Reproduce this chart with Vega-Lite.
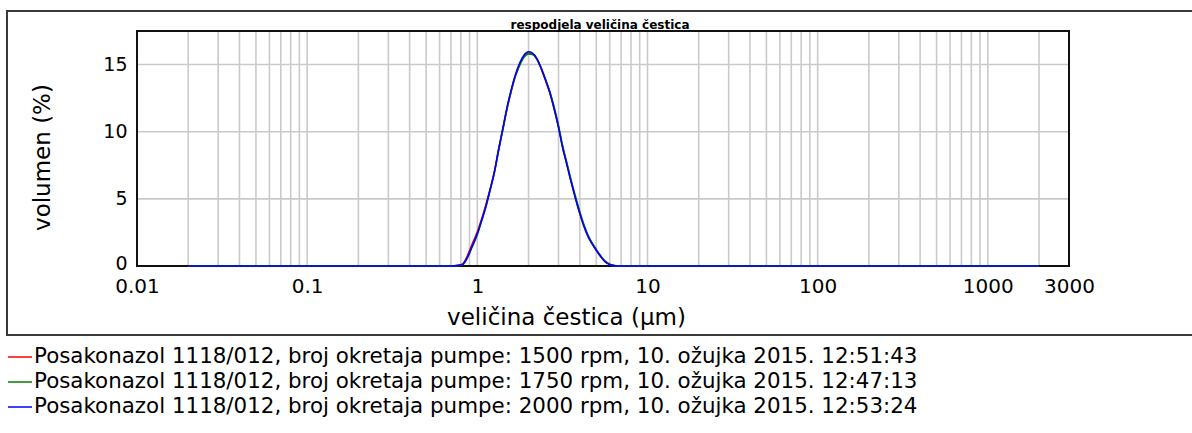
{
  "$schema": "https://vega.github.io/schema/vega-lite/v6.json",
  "padding": {"left": 7, "top": 11, "right": 0, "bottom": 0},
  "background": "white",
  "width": 1186,
  "height": 324,
  "title": {
    "text": "respodjela veličina čestica",
    "fontSize": 12,
    "fontWeight": "bold",
    "color": "#000000",
    "anchor": "middle",
    "frame": "group",
    "offset": -21
  },
  "config": {
    "font": "DejaVu Sans",
    "view": {"stroke": "#3a3a3a", "strokeWidth": 2},
    "axisX": {
      "orient": "bottom", "offset": -69,
      "domain": false, "ticks": false, "grid": false,
      "labelFontSize": 20, "labelPadding": 10, "labelColor": "#000000",
      "labelFlush": false, "labelOverlap": false, "labelDx": 3,
      "titleFontSize": 23, "titleFontWeight": "normal",
      "titleColor": "#000000", "titleX": 559, "titleY": 58,
      "titleBaseline": "alphabetic", "titleAlign": "center"
    },
    "axisY": {
      "orient": "left", "offset": -130,
      "domain": false, "ticks": false, "grid": false,
      "labelFontSize": 19, "labelPadding": 10, "labelColor": "#000000",
      "labelFlush": false, "labelOverlap": false,
      "titleFontSize": 23, "titleFontWeight": "normal",
      "titleColor": "#000000", "titleX": -88, "titleY": 146, "titleAngle": 270,
      "titleBaseline": "alphabetic", "titleAlign": "center"
    }
  },
  "datasets": {
    "serije": [
      {"rpm": 1500, "naziv": "Posakonazol 1118/012, broj okretaja pumpe: 1500 rpm, 10. ožujka 2015. 12:51:43"},
      {"rpm": 1750, "naziv": "Posakonazol 1118/012, broj okretaja pumpe: 1750 rpm, 10. ožujka 2015. 12:47:13"},
      {"rpm": 2000, "naziv": "Posakonazol 1118/012, broj okretaja pumpe: 2000 rpm, 10. ožujka 2015. 12:53:24"}
    ],
    "mjerenja": [
      {"rpm":1500,"d":0.02,"v":0},{"rpm":1500,"d":0.7,"v":0},{"rpm":1500,"d":0.76,"v":0.04},{"rpm":1500,"d":0.82,"v":0.16},{"rpm":1500,"d":0.87,"v":0.7},{"rpm":1500,"d":0.92,"v":1.45},{"rpm":1500,"d":1.0,"v":2.55},{"rpm":1500,"d":1.06,"v":3.5},{"rpm":1500,"d":1.12,"v":4.5},{"rpm":1500,"d":1.19,"v":5.75},{"rpm":1500,"d":1.26,"v":7.05},{"rpm":1500,"d":1.33,"v":8.6},{"rpm":1500,"d":1.41,"v":10.15},{"rpm":1500,"d":1.5,"v":11.8},{"rpm":1500,"d":1.58,"v":13.0},{"rpm":1500,"d":1.68,"v":14.2},{"rpm":1500,"d":1.78,"v":15.05},{"rpm":1500,"d":1.88,"v":15.6},{"rpm":1500,"d":2.0,"v":15.85},{"rpm":1500,"d":2.11,"v":15.78},{"rpm":1500,"d":2.24,"v":15.4},{"rpm":1500,"d":2.37,"v":14.7},{"rpm":1500,"d":2.51,"v":13.85},{"rpm":1500,"d":2.66,"v":12.95},{"rpm":1500,"d":2.82,"v":11.8},{"rpm":1500,"d":2.99,"v":10.45},{"rpm":1500,"d":3.16,"v":8.95},{"rpm":1500,"d":3.35,"v":7.65},{"rpm":1500,"d":3.55,"v":6.35},{"rpm":1500,"d":3.76,"v":5.15},{"rpm":1500,"d":3.98,"v":4.05},{"rpm":1500,"d":4.22,"v":3.05},{"rpm":1500,"d":4.47,"v":2.22},{"rpm":1500,"d":4.73,"v":1.66},{"rpm":1500,"d":5.01,"v":1.16},{"rpm":1500,"d":5.31,"v":0.71},{"rpm":1500,"d":5.62,"v":0.34},{"rpm":1500,"d":5.96,"v":0.13},{"rpm":1500,"d":6.31,"v":0.04},{"rpm":1500,"d":6.6,"v":0},{"rpm":1500,"d":2000,"v":0},
      {"rpm":1750,"d":0.02,"v":0},{"rpm":1750,"d":0.7,"v":0},{"rpm":1750,"d":0.76,"v":0.03},{"rpm":1750,"d":0.82,"v":0.1},{"rpm":1750,"d":0.87,"v":0.55},{"rpm":1750,"d":0.92,"v":1.25},{"rpm":1750,"d":1.0,"v":2.35},{"rpm":1750,"d":1.06,"v":3.35},{"rpm":1750,"d":1.12,"v":4.35},{"rpm":1750,"d":1.19,"v":5.65},{"rpm":1750,"d":1.26,"v":6.95},{"rpm":1750,"d":1.33,"v":8.5},{"rpm":1750,"d":1.41,"v":10.1},{"rpm":1750,"d":1.5,"v":11.8},{"rpm":1750,"d":1.58,"v":13.0},{"rpm":1750,"d":1.68,"v":14.2},{"rpm":1750,"d":1.78,"v":15.0},{"rpm":1750,"d":1.88,"v":15.55},{"rpm":1750,"d":2.0,"v":15.8},{"rpm":1750,"d":2.11,"v":15.75},{"rpm":1750,"d":2.24,"v":15.4},{"rpm":1750,"d":2.37,"v":14.75},{"rpm":1750,"d":2.51,"v":13.95},{"rpm":1750,"d":2.66,"v":13.05},{"rpm":1750,"d":2.82,"v":11.9},{"rpm":1750,"d":2.99,"v":10.55},{"rpm":1750,"d":3.16,"v":9.05},{"rpm":1750,"d":3.35,"v":7.75},{"rpm":1750,"d":3.55,"v":6.45},{"rpm":1750,"d":3.76,"v":5.25},{"rpm":1750,"d":3.98,"v":4.15},{"rpm":1750,"d":4.22,"v":3.12},{"rpm":1750,"d":4.47,"v":2.3},{"rpm":1750,"d":4.73,"v":1.72},{"rpm":1750,"d":5.01,"v":1.22},{"rpm":1750,"d":5.31,"v":0.76},{"rpm":1750,"d":5.62,"v":0.38},{"rpm":1750,"d":5.96,"v":0.15},{"rpm":1750,"d":6.31,"v":0.05},{"rpm":1750,"d":6.6,"v":0},{"rpm":1750,"d":2000,"v":0},
      {"rpm":2000,"d":0.02,"v":0},{"rpm":2000,"d":0.7,"v":0},{"rpm":2000,"d":0.76,"v":0.03},{"rpm":2000,"d":0.82,"v":0.12},{"rpm":2000,"d":0.87,"v":0.6},{"rpm":2000,"d":0.92,"v":1.3},{"rpm":2000,"d":1.0,"v":2.4},{"rpm":2000,"d":1.06,"v":3.4},{"rpm":2000,"d":1.12,"v":4.4},{"rpm":2000,"d":1.19,"v":5.7},{"rpm":2000,"d":1.26,"v":7.0},{"rpm":2000,"d":1.33,"v":8.6},{"rpm":2000,"d":1.41,"v":10.2},{"rpm":2000,"d":1.5,"v":11.9},{"rpm":2000,"d":1.58,"v":13.1},{"rpm":2000,"d":1.68,"v":14.3},{"rpm":2000,"d":1.78,"v":15.15},{"rpm":2000,"d":1.88,"v":15.7},{"rpm":2000,"d":2.0,"v":15.95},{"rpm":2000,"d":2.11,"v":15.85},{"rpm":2000,"d":2.24,"v":15.45},{"rpm":2000,"d":2.37,"v":14.75},{"rpm":2000,"d":2.51,"v":13.9},{"rpm":2000,"d":2.66,"v":12.95},{"rpm":2000,"d":2.82,"v":11.75},{"rpm":2000,"d":2.99,"v":10.4},{"rpm":2000,"d":3.16,"v":8.9},{"rpm":2000,"d":3.35,"v":7.6},{"rpm":2000,"d":3.55,"v":6.3},{"rpm":2000,"d":3.76,"v":5.1},{"rpm":2000,"d":3.98,"v":4.0},{"rpm":2000,"d":4.22,"v":3.0},{"rpm":2000,"d":4.47,"v":2.2},{"rpm":2000,"d":4.73,"v":1.65},{"rpm":2000,"d":5.01,"v":1.15},{"rpm":2000,"d":5.31,"v":0.7},{"rpm":2000,"d":5.62,"v":0.33},{"rpm":2000,"d":5.96,"v":0.12},{"rpm":2000,"d":6.31,"v":0.03},{"rpm":2000,"d":6.6,"v":0},{"rpm":2000,"d":2000,"v":0}
    ],
    "mrezaX": [
      {"g":0.02},{"g":0.03},{"g":0.04},{"g":0.05},{"g":0.06},{"g":0.07},{"g":0.08},{"g":0.09},{"g":0.1},
      {"g":0.2},{"g":0.3},{"g":0.4},{"g":0.5},{"g":0.6},{"g":0.7},{"g":0.8},{"g":0.9},{"g":1},
      {"g":2},{"g":3},{"g":4},{"g":5},{"g":6},{"g":7},{"g":8},{"g":9},{"g":10},
      {"g":20},{"g":30},{"g":40},{"g":50},{"g":60},{"g":70},{"g":80},{"g":90},{"g":100},
      {"g":200},{"g":300},{"g":400},{"g":500},{"g":600},{"g":700},{"g":800},{"g":900},{"g":1000},
      {"g":2000}
    ],
    "mrezaY": [{"h":5},{"h":10},{"h":15}]
  },
  "layer": [
    {
      "data": {"name": "mrezaX"},
      "mark": {"type": "rule", "color": "#cacaca", "strokeWidth": 1.6},
      "encoding": {
        "x": {"field": "g", "type": "quantitative", "title": "veličina čestica (µm)",
              "axis": {"values": [0.01, 0.1, 1, 10, 100, 1000, 3000], "format": "~g"},
              "scale": {"type": "log", "domain": [0.01, 3000], "range": [130, 1062], "nice": false}},
        "y": {"datum": 0, "type": "quantitative", "title": "volumen (%)",
              "axis": {"values": [0, 5, 10, 15], "labelOffset": {"condition": {"test": "datum.value === 0", "value": -3}, "value": 0}},
              "scale": {"domain": [0, 17.5], "range": [255, 20], "nice": false, "zero": false}},
        "y2": {"datum": 17.5}
      }
    },
    {
      "data": {"name": "mrezaY"},
      "mark": {"type": "rule", "color": "#cacaca", "strokeWidth": 1.6},
      "encoding": {
        "x": {"datum": 0.01, "type": "quantitative", "title": "veličina čestica (µm)",
              "axis": {"values": [0.01, 0.1, 1, 10, 100, 1000, 3000], "format": "~g"}},
        "x2": {"datum": 3000},
        "y": {"field": "h", "type": "quantitative", "title": "volumen (%)",
              "axis": {"values": [0, 5, 10, 15], "labelOffset": {"condition": {"test": "datum.value === 0", "value": -3}, "value": 0}}}
      }
    },
    {
      "data": {"values": [{}]},
      "mark": {"type": "rect", "fill": null, "stroke": "#111111", "strokeWidth": 2},
      "encoding": {
        "x": {"datum": 0.01, "type": "quantitative", "title": "veličina čestica (µm)",
              "axis": {"values": [0.01, 0.1, 1, 10, 100, 1000, 3000], "format": "~g"}},
        "x2": {"datum": 3000},
        "y": {"datum": 0, "type": "quantitative", "title": "volumen (%)",
              "axis": {"values": [0, 5, 10, 15], "labelOffset": {"condition": {"test": "datum.value === 0", "value": -3}, "value": 0}}},
        "y2": {"datum": 17.5}
      }
    },
    {
      "data": {"name": "mjerenja"},
      "transform": [
        {"lookup": "rpm", "from": {"data": {"name": "serije"}, "key": "rpm", "fields": ["naziv"]}}
      ],
      "mark": {"type": "line", "strokeWidth": 1.6, "interpolate": "monotone"},
      "encoding": {
        "x": {"field": "d", "type": "quantitative", "title": "veličina čestica (µm)",
              "axis": {"values": [0.01, 0.1, 1, 10, 100, 1000, 3000], "format": "~g"}},
        "y": {"field": "v", "type": "quantitative", "title": "volumen (%)",
              "axis": {"values": [0, 5, 10, 15], "labelOffset": {"condition": {"test": "datum.value === 0", "value": -3}, "value": 0}}},
        "color": {
          "field": "naziv", "type": "nominal",
          "scale": {
            "domain": [
              "Posakonazol 1118/012, broj okretaja pumpe: 1500 rpm, 10. ožujka 2015. 12:51:43",
              "Posakonazol 1118/012, broj okretaja pumpe: 1750 rpm, 10. ožujka 2015. 12:47:13",
              "Posakonazol 1118/012, broj okretaja pumpe: 2000 rpm, 10. ožujka 2015. 12:53:24"
            ],
            "range": ["#ff0000", "#008000", "#0000ff"]
          },
          "legend": {
            "orient": "none", "legendX": 0, "legendY": 333, "title": null,
            "symbolType": "stroke", "symbolSize": 576, "symbolStrokeWidth": 1.5,
            "labelFontSize": 21.4, "labelColor": "#000000", "labelOffset": 1,
            "labelLimit": 1200, "rowPadding": 1, "padding": 0
          }
        }
      }
    }
  ]
}
